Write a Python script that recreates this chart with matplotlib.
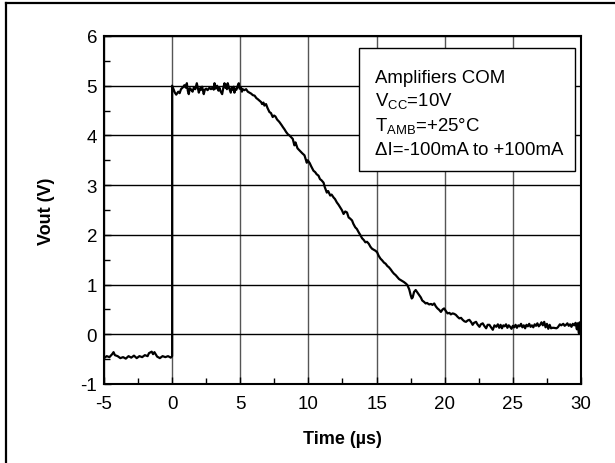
import numpy as np
import matplotlib
matplotlib.use("Agg")
import matplotlib.pyplot as plt
from matplotlib.patches import Rectangle
from matplotlib.lines import Line2D
from matplotlib.ticker import MultipleLocator

plt.rcParams['font.family'] = ['Liberation Sans', 'DejaVu Sans']
plt.rcParams['mathtext.fontset'] = 'custom'
plt.rcParams['mathtext.rm'] = 'Liberation Sans'
plt.rcParams['axes.unicode_minus'] = False

# scope trace: time (us) and output voltage (V)
time_us = [
    -5.0, -4.8, -4.6, -4.4, -4.3, -4.2, -4.0, -3.8, -3.6, -3.4, -3.2, -3.0,
    -2.8, -2.6, -2.4, -2.2, -2.0, -1.8, -1.7, -1.5, -1.4, -1.3, -1.1, -0.9,
    -0.7, -0.5, -0.3, -0.1, 0.0,
    0.0, 0.1, 0.2, 0.3, 0.45, 0.55, 0.65, 0.8, 0.9, 1.0, 1.08, 1.15, 1.22,
    1.3, 1.4, 1.5, 1.6, 1.7, 1.81, 1.9, 1.96, 2.05, 2.13, 2.2, 2.32, 2.4,
    2.5, 2.6, 2.74, 2.85, 2.98, 3.05, 3.11, 3.2, 3.3, 3.4, 3.47, 3.55, 3.67,
    3.75, 3.84, 3.9, 3.96, 4.02, 4.08, 4.15, 4.21, 4.3, 4.38, 4.45, 4.52,
    4.57, 4.65, 4.72, 4.8, 4.89, 4.95, 5.06, 5.12, 5.18, 5.3, 5.43, 5.55,
    5.67, 5.8, 5.92, 6.05, 6.18, 6.28, 6.4, 6.53, 6.6, 6.7, 6.77, 6.89,
    7.0, 7.14, 7.25, 7.38, 7.48, 7.58, 7.7, 7.87, 7.95, 8.05, 8.12, 8.25,
    8.36, 8.5, 8.61, 8.75, 8.85, 8.97, 9.05, 9.1, 9.2, 9.34, 9.45, 9.55,
    9.71, 9.88, 9.95, 10.1, 10.2, 10.37, 10.5, 10.6, 10.74, 10.85, 10.95,
    11.11, 11.2, 11.35, 11.45, 11.6, 11.7, 11.85, 11.95, 12.09, 12.2, 12.34,
    12.45, 12.58, 12.7, 12.83, 12.95, 13.05, 13.2, 13.3, 13.44, 13.55,
    13.69, 13.8, 13.94, 14.05, 14.18, 14.3, 14.43, 14.55, 14.67, 14.8,
    14.92, 15.04, 15.15, 15.29, 15.4, 15.55, 15.66, 15.8, 15.9, 16.05,
    16.15, 16.27, 16.4, 16.52, 16.65, 16.77, 16.9, 17.01, 17.15, 17.26,
    17.4, 17.5, 17.58, 17.65, 17.75, 17.87, 18.0, 18.12, 18.25, 18.35,
    18.49, 18.6, 18.7, 18.86, 19.0, 19.1, 19.23, 19.35, 19.47, 19.6, 19.72,
    19.85, 19.96, 20.1, 20.21, 20.35, 20.45, 20.58, 20.7, 20.82, 20.95,
    21.07, 21.2, 21.32, 21.45, 21.56, 21.7, 21.81, 21.95, 22.05, 22.15,
    22.3, 22.4, 22.55, 22.65, 22.79, 22.9, 23.04, 23.15, 23.28, 23.4, 23.53,
    23.65, 23.78, 23.9, 24.0, 24.1, 24.2, 24.3, 24.4, 24.5, 24.6, 24.7,
    24.8, 24.9, 25.0, 25.1, 25.2, 25.3, 25.4, 25.5, 25.6, 25.7, 25.8, 25.9,
    26.0, 26.1, 26.2, 26.3, 26.4, 26.5, 26.6, 26.7, 26.8, 26.9, 27.0, 27.1,
    27.2, 27.3, 27.4, 27.5, 27.6, 27.7, 27.8, 27.9, 28.0, 28.2, 28.3, 28.45,
    28.55, 28.7, 28.8, 28.9, 29.0, 29.1, 29.2, 29.3, 29.4, 29.5, 29.6, 29.7,
    29.75, 29.85, 29.9, 30.0,
]
vout = [
    -0.48, -0.44, -0.46, -0.40, -0.36, -0.42, -0.44, -0.48, -0.46, -0.49,
    -0.44, -0.47, -0.43, -0.48, -0.44, -0.46, -0.42, -0.44, -0.38, -0.35,
    -0.40, -0.36, -0.45, -0.48, -0.44, -0.46, -0.44, -0.47, -0.44,
    5.00, 4.93, 4.86, 4.82, 4.88, 4.85, 4.93, 4.97, 5.01, 4.96, 5.05, 4.90,
    4.83, 4.95, 4.92, 4.88, 4.97, 4.93, 5.05, 4.94, 4.86, 4.95, 4.92, 4.98,
    4.83, 4.92, 4.94, 4.91, 4.96, 4.93, 4.97, 4.92, 5.05, 4.94, 5.00, 4.90,
    4.96, 4.89, 4.83, 4.95, 5.05, 4.96, 5.02, 4.93, 5.05, 4.98, 4.93, 4.86,
    4.97, 4.92, 4.98, 4.86, 4.94, 4.92, 4.99, 5.05, 4.94, 4.96, 4.88, 4.93,
    4.91, 4.93, 4.88, 4.86, 4.84, 4.81, 4.80, 4.75, 4.73, 4.70, 4.67, 4.63,
    4.66, 4.60, 4.63, 4.55, 4.47, 4.45, 4.37, 4.40, 4.38, 4.32, 4.27, 4.24,
    4.20, 4.17, 4.12, 4.07, 4.02, 4.00, 3.96, 3.93, 3.80, 3.86, 3.82, 3.74,
    3.70, 3.67, 3.64, 3.60, 3.45, 3.50, 3.44, 3.38, 3.29, 3.26, 3.22, 3.19,
    3.12, 3.10, 3.05, 2.96, 2.85, 2.88, 2.79, 2.81, 2.75, 2.72, 2.65, 2.61,
    2.55, 2.50, 2.42, 2.47, 2.45, 2.35, 2.33, 2.29, 2.22, 2.15, 2.12, 2.05,
    2.00, 1.93, 1.90, 1.85, 1.86, 1.82, 1.76, 1.72, 1.70, 1.68, 1.65, 1.58,
    1.52, 1.49, 1.44, 1.42, 1.37, 1.35, 1.30, 1.26, 1.22, 1.19, 1.15, 1.11,
    1.09, 1.07, 1.05, 1.02, 0.99, 0.90, 0.79, 0.72, 0.74, 0.85, 0.89, 0.84,
    0.79, 0.74, 0.68, 0.65, 0.62, 0.63, 0.60, 0.61, 0.59, 0.62, 0.56, 0.52,
    0.49, 0.45, 0.50, 0.52, 0.46, 0.42, 0.43, 0.40, 0.42, 0.41, 0.39, 0.35,
    0.32, 0.33, 0.29, 0.26, 0.25, 0.28, 0.29, 0.24, 0.19, 0.23, 0.25, 0.20,
    0.15, 0.20, 0.22, 0.17, 0.12, 0.19, 0.19, 0.14, 0.09, 0.18, 0.15, 0.20,
    0.13, 0.19, 0.12, 0.18, 0.16, 0.20, 0.13, 0.18, 0.15, 0.11, 0.17, 0.14,
    0.19, 0.13, 0.18, 0.16, 0.21, 0.14, 0.18, 0.12, 0.19, 0.16, 0.21, 0.15,
    0.18, 0.14, 0.20, 0.17, 0.22, 0.16, 0.19, 0.24, 0.18, 0.25, 0.14, 0.21,
    0.11, 0.19, 0.12, 0.13, 0.13, 0.12, 0.14, 0.20, 0.18, 0.21, 0.17, 0.19,
    0.22, 0.17, 0.20, 0.15, 0.21, 0.18, 0.23, 0.10, 0.22, 0.02, 0.24, 0.15,
]

info_lines = [
    "Amplifiers COM",
    r"V$_{\mathrm{CC}}$=10V",
    r"T$_{\mathrm{AMB}}$=+25°C",
    "ΔI=-100mA to +100mA",
]

fig = plt.figure(figsize=(6.15, 4.64), dpi=100)
ax = fig.add_axes([0.1691, 0.1703, 0.7756, 0.7500])

# grid first so the trace sits on top
for xv in range(-5, 31, 5):
    ax.axvline(xv, color='#555555', lw=1.0, zorder=1)
for yv in range(-1, 7):
    ax.axhline(yv, color='black', lw=1.0, zorder=1)

ax.plot(time_us, vout, color='black', lw=1.6, zorder=3)

ax.set_xlim(-5, 30)
ax.set_ylim(-1, 6)
ax.xaxis.set_major_locator(MultipleLocator(5))
ax.xaxis.set_minor_locator(MultipleLocator(2.5))
ax.yaxis.set_major_locator(MultipleLocator(1))
ax.yaxis.set_minor_locator(MultipleLocator(0.5))
ax.tick_params(which='both', direction='in', labelsize=13.5, color='black')
ax.tick_params(which='major', length=5, width=1)
ax.tick_params(which='minor', length=4, width=1)
ax.tick_params(axis='x', pad=8)
ax.tick_params(axis='y', pad=5)
for sp in ax.spines.values():
    sp.set_linewidth(1.5)

ax.set_xlabel("Time (µs)", fontsize=13, fontweight='bold', labelpad=13)
ax.set_ylabel("Vout (V)", fontsize=13, fontweight='bold', labelpad=18)

# info box
ax.add_patch(Rectangle((13.71, 3.29), 15.85, 2.46, facecolor='white',
                       edgecolor='black', lw=1.0, zorder=4))
for txt, yb in zip(info_lines, [5.07, 4.60, 4.095, 3.63]):
    ax.text(14.89, yb, txt, fontsize=13.4, va='baseline', ha='left', zorder=5)

# outer page frame (only left and top edges are visible)
fig.add_artist(Line2D([6 / 615, 6 / 615], [0, 1 - 4 / 464], color='black', lw=1.6))
fig.add_artist(Line2D([6 / 615, 1], [1 - 4 / 464, 1 - 4 / 464], color='black', lw=1.6))

fig.savefig("out.png", dpi=100)
